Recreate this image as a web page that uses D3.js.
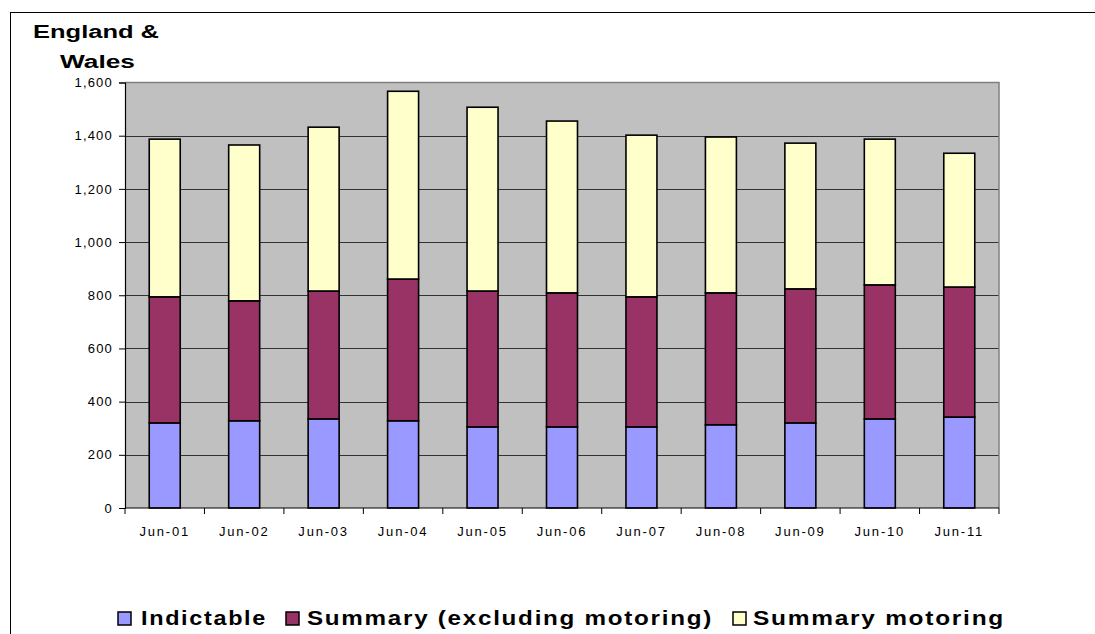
<!DOCTYPE html>
<html>
<head>
<meta charset="utf-8">
<style>
  html, body { margin: 0; padding: 0; background: #fff; }
  svg { display: block; }
  text { font-family: Arial, "Liberation Sans", sans-serif; }
</style>
</head>
<body>
<div id="chart"></div>
<script src="https://cdn.jsdelivr.net/npm/d3@7/dist/d3.min.js"></script>
<script>
// data (thousands)
const categories = ['Jun-01', 'Jun-02', 'Jun-03', 'Jun-04', 'Jun-05', 'Jun-06', 'Jun-07', 'Jun-08', 'Jun-09', 'Jun-10', 'Jun-11'];
const indictable = [320, 328, 335, 328, 305, 305, 305, 313, 320, 335, 342];
const summaryExcl = [474, 451, 481, 533, 511, 504, 489, 496, 504, 504, 489];
const summaryMotoring = [593, 586, 616, 706, 691, 646, 608, 586, 548, 548, 503];
const seriesNames = ['Indictable', 'Summary (excluding motoring)', 'Summary motoring'];
const seriesColors = ['#9999FF', '#993366', '#FFFFCC'];
const yTicks = [0, 200, 400, 600, 800, 1000, 1200, 1400, 1600];

const width = 1095, height = 634;
const plot = { left: 125, right: 999, top: 82.5, bottom: 508 };

const svg = d3.select('#chart').append('svg')
    .attr('width', width)
    .attr('height', height);

// outer chart border (right and bottom run off the page)
svg.append('rect')
    .attr('x', 10.5).attr('y', 12.5)
    .attr('width', 1100).attr('height', 640)
    .attr('fill', 'none').attr('stroke', '#000').attr('stroke-width', 1);

const rows = categories.map((c, i) => ({
    cat: c,
    'Indictable': indictable[i],
    'Summary (excluding motoring)': summaryExcl[i],
    'Summary motoring': summaryMotoring[i]
}));
const stacked = d3.stack().keys(seriesNames)(rows);

const x = d3.scaleBand()
    .domain(categories)
    .range([plot.left, plot.right])
    .paddingInner(0.61)
    .paddingOuter(0.305);

const y = d3.scaleLinear()
    .domain([0, 1600])
    .range([plot.bottom, plot.top]);

// plot background
svg.append('rect')
    .attr('x', plot.left).attr('y', plot.top)
    .attr('width', plot.right - plot.left).attr('height', plot.bottom - plot.top)
    .attr('fill', '#C0C0C0');

// gridlines
svg.append('g')
    .selectAll('line')
    .data(yTicks.filter(d => d > 0 && d < 1600))
    .join('line')
    .attr('x1', plot.left).attr('x2', plot.right)
    .attr('y1', d => Math.round(y(d)) + 0.5).attr('y2', d => Math.round(y(d)) + 0.5)
    .attr('stroke', '#333').attr('stroke-width', 1);

// plot border top/right
svg.append('path')
    .attr('d', `M${plot.left},${plot.top}H${plot.right}V${plot.bottom}`)
    .attr('fill', 'none').attr('stroke', '#808080').attr('stroke-width', 1.5);

// bars
svg.append('g')
    .selectAll('g')
    .data(stacked)
    .join('g')
    .attr('fill', (d, i) => seriesColors[i])
    .selectAll('rect')
    .data(d => d)
    .join('rect')
    .attr('x', d => x(d.data.cat))
    .attr('y', d => y(d[1]))
    .attr('width', x.bandwidth())
    .attr('height', d => y(d[0]) - y(d[1]))
    .attr('stroke', '#000')
    .attr('stroke-width', 1.6);

// y axis
const yAxis = svg.append('g')
    .attr('transform', `translate(${plot.left},0)`)
    .call(d3.axisLeft(y).tickValues(yTicks).tickSize(6).tickPadding(6).tickFormat(d3.format(',')));
yAxis.select('.domain').attr('stroke', '#000').attr('stroke-width', 1.2);
yAxis.selectAll('.tick line').attr('stroke', '#000');
yAxis.selectAll('text')
    .attr('font-size', 13).attr('fill', '#000')
    .attr('font-family', 'Arial, "Liberation Sans", sans-serif')
    .style('letter-spacing', '1.2px');

// x axis: ticks between categories
const xAxis = svg.append('g')
    .attr('transform', `translate(0,${plot.bottom})`);
xAxis.append('line')
    .attr('x1', plot.left).attr('x2', plot.right)
    .attr('stroke', '#000').attr('stroke-width', 1.2);
xAxis.selectAll('line.tk')
    .data(d3.range(categories.length + 1))
    .join('line')
    .attr('class', 'tk')
    .attr('x1', i => plot.left + i * x.step()).attr('x2', i => plot.left + i * x.step())
    .attr('y1', 0).attr('y2', 6)
    .attr('stroke', '#000');
xAxis.selectAll('text')
    .data(categories)
    .join('text')
    .attr('x', d => x(d) + x.bandwidth() / 2)
    .attr('y', 28)
    .attr('text-anchor', 'middle')
    .attr('font-size', 13)
    .style('letter-spacing', '1.8px')
    .text(d => d);

// title
svg.append('text')
    .attr('x', 33).attr('y', 38)
    .attr('font-size', 18).attr('font-weight', 'bold')
    .attr('textLength', 126).attr('lengthAdjust', 'spacingAndGlyphs')
    .text('England &');
svg.append('text')
    .attr('x', 60).attr('y', 68)
    .attr('font-size', 18).attr('font-weight', 'bold')
    .attr('textLength', 75).attr('lengthAdjust', 'spacingAndGlyphs')
    .text('Wales');

// legend
const legendItems = [
    { name: seriesNames[0], color: seriesColors[0], sx: 118, tx: 141, tw: 126 },
    { name: seriesNames[1], color: seriesColors[1], sx: 286, tx: 307, tw: 406 },
    { name: seriesNames[2], color: seriesColors[2], sx: 733, tx: 753, tw: 252 }
];
const legend = svg.append('g');
legend.selectAll('rect')
    .data(legendItems)
    .join('rect')
    .attr('x', d => d.sx).attr('y', 612)
    .attr('width', 13).attr('height', 13)
    .attr('fill', d => d.color)
    .attr('stroke', '#000').attr('stroke-width', 1.5);
legend.selectAll('text')
    .data(legendItems)
    .join('text')
    .attr('x', d => d.tx).attr('y', 625)
    .attr('font-size', 21).attr('font-weight', 'bold')
    .style('letter-spacing', '1.5px')
    .attr('textLength', d => d.tw).attr('lengthAdjust', 'spacingAndGlyphs')
    .text(d => d.name);
</script>
</body>
</html>
